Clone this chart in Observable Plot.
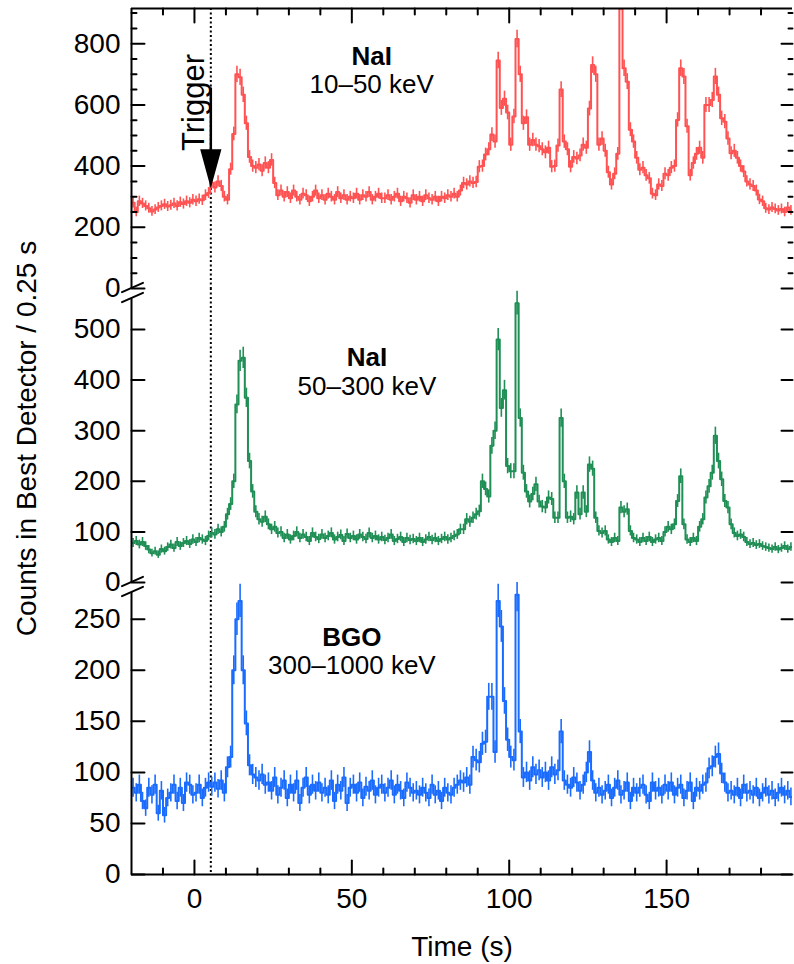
<!DOCTYPE html>
<html><head><meta charset="utf-8">
<script src="https://cdn.jsdelivr.net/npm/d3@7"></script>
<script src="https://cdn.jsdelivr.net/npm/@observablehq/plot@0.6"></script>
<style>
body{margin:0;background:#fff;}
#wrap{position:relative;width:794px;height:964px;overflow:hidden;background:#fff;}
#wrap > div{position:absolute;left:0;width:794px;}
#wrap svg{overflow:visible;}
</style></head>
<body>
<div id="wrap"><div id="p1" style="top:0px"></div><div id="p2" style="top:288px"></div><div id="p3" style="top:582px"></div></div>
<script>
// ---- data: counts per 0.25 s, 1-s bins starting at t = -20 s ----
const binStart = -20;
const binWidth = 1;
const nai1 = [ // NaI 10–50 keV
280,250,285,278,270,262,252,258,265,270,
275,268,272,278,270,282,276,285,280,290,
285,292,288,305,312,345,330,350,335,300,
290,390,505,700,690,633,540,430,400,395,
405,385,410,395,420,345,305,320,300,315,
295,320,300,290,310,305,285,300,320,295,
305,290,310,300,290,315,295,305,290,300,
295,310,290,305,300,315,290,300,310,295,
295,305,290,300,310,285,300,295,280,305,
290,300,285,305,295,290,300,285,300,295,
305,300,310,300,320,345,340,350,345,348,
398,400,438,455,503,480,745,590,620,575,
470,562,815,700,540,560,470,485,470,465,
455,445,460,398,400,467,650,480,455,398,
430,425,435,470,460,588,730,700,470,490,
450,380,340,375,440,940,720,676,519,480,
427,388,395,370,360,310,305,340,335,375,
370,395,400,551,720,693,530,370,410,440,
460,427,600,600,616,693,633,556,545,490,
442,450,427,400,382,350,340,335,320,291,
285,262,258,265,260,255,260,250,265,255];
const nai2 = [ // NaI 50–300 keV
78,82,75,80,72,65,58,62,55,66,
62,70,75,68,80,72,78,82,76,85,
80,88,85,82,92,98,95,105,100,110,
135,155,200,352,438,444,365,240,180,140,
125,120,130,115,105,110,98,100,88,95,
85,92,100,88,95,90,82,98,90,86,
95,88,92,98,85,90,94,82,96,88,
92,85,95,90,86,98,88,92,85,90,
84,88,95,82,86,90,80,88,84,86,
82,88,80,85,90,84,88,82,86,90,
85,88,92,95,105,105,125,120,128,135,
141,200,185,170,270,300,480,345,380,230,
220,220,552,325,217,180,160,175,194,160,
150,148,168,165,128,128,325,200,128,130,
125,178,135,178,140,233,225,128,102,98,
102,85,80,88,82,148,140,145,102,88,
85,80,88,82,90,80,85,88,82,100,
110,105,115,161,210,115,85,80,88,82,
110,125,168,190,217,290,240,204,161,148,
115,98,92,95,90,80,76,78,74,76,
72,70,68,66,70,65,68,72,66,70];
const bgo = [ // BGO 300–1000 keV
85,80,88,72,65,85,78,88,60,82,
58,75,80,88,72,85,70,90,88,78,
80,88,75,85,90,86,90,84,92,80,
105,115,200,250,268,200,148,107,98,95,
92,98,88,90,82,95,78,85,92,75,
88,80,92,70,85,95,78,88,82,90,
80,85,78,92,72,88,82,95,70,85,
88,80,90,75,86,82,92,78,85,88,
80,85,92,78,88,82,75,90,85,80,
82,78,85,80,75,88,78,82,72,85,
80,78,85,88,92,90,95,88,115,112,
110,128,130,174,174,120,268,243,170,132,
115,112,274,140,95,100,92,105,98,102,
95,100,92,105,98,102,140,92,88,85,
95,90,82,88,100,120,92,80,85,78,
82,88,75,85,92,78,82,90,72,85,
80,85,88,78,72,90,82,85,78,88,
82,90,78,85,88,75,82,90,72,85,
82,88,90,104,106,115,118,99,90,80,
82,78,85,75,88,80,82,78,85,75,
80,85,78,82,75,80,85,78,82,76];
const detectors = ["NaI", "NaI", "BGO"];
const bands = ["10–50 keV", "50–300 keV", "300–1000 keV"];
const triggerTime = 5.2;
const triggerLabel = "Trigger";
const xTitle = "Time (s)";
const yTitle = "Counts in Best Detector / 0.25 s";
const xTickLabels = [0, 50, 100, 150];
const xMinorTicks = [-10,10,20,30,40,60,70,80,90,110,120,130,140,160,170,180];
const y1TickLabels = [0, 200, 400, 600, 800];
const y1MinorTicks = [50,100,150,250,300,350,450,500,550,650,700,750,850,900];
const y2TickLabels = [0, 100, 200, 300, 400, 500];
const y3TickLabels = [0, 50, 100, 150, 200, 250];

// ---- drawing ----
const xDomain = [-20, 190];
const FONT = '"Liberation Sans", Arial, Helvetica, sans-serif';
const seg = {draw(ctx, l) { ctx.moveTo(0, 0); ctx.lineTo(0, -l); }};
const arrowShape = {draw(ctx, l) {
  ctx.moveTo(0, 0); ctx.lineTo(0, -l + 30);
  ctx.moveTo(0, -l); ctx.lineTo(-9, -l + 33); ctx.lineTo(9, -l + 33); ctx.closePath();
}};

function panel(cfg) {
  const rows = cfg.values.map((v, i) => ({t: binStart + i * binWidth, v}));
  const stepRows = rows.concat([{t: binStart + rows.length * binWidth, v: rows[rows.length - 1].v}]);
  const yTop = cfg.yDomain[1];
  const k = {stroke: "black", strokeWidth: 2, shape: seg, anchor: "start"};
  const marks = [
    Plot.ruleX([triggerTime], {stroke: "black", strokeWidth: 2, strokeDasharray: "2,2.5"}),
    Plot.ruleX(rows, {x: d => d.t + binWidth / 2, y1: d => d.v - Math.sqrt(d.v), y2: d => d.v + Math.sqrt(d.v),
      stroke: cfg.color, strokeWidth: 1.6, clip: true}),
    Plot.line(stepRows, {x: "t", y: "v", curve: "step-after", stroke: cfg.color, strokeWidth: 2, clip: true}),
    Plot.ruleX([xDomain[0]], {stroke: "black", strokeWidth: 2, insetTop: cfg.gapTop || 0}),
    Plot.axisY(cfg.tickLabels, {anchor: "left", tickSize: 0, tickPadding: 11, fontSize: 28, tickFormat: d => String(d), label: null}),
    Plot.vector(cfg.tickLabels, {...k, x: xDomain[0], y: d => d, length: 13, rotate: 90}),
    Plot.vector(cfg.tickLabels, {...k, x: xDomain[1], y: d => d, length: 11, rotate: -90}),
    Plot.text([cfg.detector], {x: cfg.labelX, y: yTop, dy: cfg.labelDy[0], fontWeight: "bold", fontSize: 26}),
    Plot.text([cfg.band], {x: cfg.labelX, y: yTop, dy: cfg.labelDy[1], fontSize: 26})
  ];
  if (cfg.minor) {
    marks.push(Plot.vector(cfg.minor, {...k, x: xDomain[0], y: d => d, length: 5, rotate: 90}));
    marks.push(Plot.vector(cfg.minor, {...k, x: xDomain[1], y: d => d, length: 4, rotate: -90}));
  }
  if (cfg.extra) marks.push(...cfg.extra(yTop, k));
  return Plot.plot({
    width: 794, height: cfg.height,
    marginLeft: 131, marginRight: 2, marginTop: cfg.marginTop, marginBottom: cfg.marginBottom,
    x: {domain: xDomain, axis: cfg.xAxis ? undefined : null},
    y: {domain: cfg.yDomain},
    style: {fontFamily: FONT, background: "transparent", overflow: "visible", color: "black"},
    marks
  });
}

function breakMarks(yTop) {
  return [
    Plot.vector([yTop], {stroke: "black", strokeWidth: 2, shape: seg, anchor: "middle", x: xDomain[0], y: d => d, dx: 1, dy: -1, length: 23, rotate: 66}),
    Plot.vector([yTop], {stroke: "black", strokeWidth: 2, shape: seg, anchor: "middle", x: xDomain[0], y: d => d, dx: 1, dy: 9, length: 23, rotate: 66})
  ];
}

const p1 = panel({
  values: nai1, color: "#ff5252", yDomain: [0, 915], height: 288, marginTop: 8, marginBottom: 0,
  tickLabels: y1TickLabels, minor: y1MinorTicks, detector: detectors[0], band: bands[0],
  labelX: 56.3, labelDy: [48, 76],
  extra: (yTop, k) => [
    Plot.ruleY([yTop], {stroke: "black", strokeWidth: 2}),
    Plot.vector(xTickLabels, {...k, x: d => d, y: yTop, length: 14, rotate: 180}),
    Plot.vector(xMinorTicks, {...k, x: d => d, y: yTop, length: 6, rotate: 180}),
    Plot.vector([triggerTime], {x: d => d, y: yTop, dy: 80, length: 95, rotate: 180, anchor: "start",
      shape: arrowShape, stroke: "black", fill: "black", strokeWidth: 2.5, strokeLinejoin: "miter"}),
    Plot.text([triggerLabel], {x: triggerTime, y: yTop, dx: -17, dy: 94, rotate: -90, fontSize: 31})
  ]
});
const p2 = panel({
  values: nai2, color: "#1f8f55", yDomain: [0, 581], height: 294, marginTop: 0, marginBottom: 0, gapTop: 10,
  tickLabels: y2TickLabels, detector: detectors[1], band: bands[1],
  labelX: 54.8, labelDy: [69, 98],
  extra: (yTop) => [
    ...breakMarks(yTop),
    Plot.text([yTitle], {frameAnchor: "left", textAnchor: "middle", lineAnchor: "middle", dx: -104, dy: 3, rotate: -90, fontSize: 28})
  ]
});
const p3 = panel({
  values: bgo, color: "#1a6cff", yDomain: [0, 286], height: 382, marginTop: 0, marginBottom: 90, gapTop: 10,
  tickLabels: y3TickLabels, detector: detectors[2], band: bands[2], xAxis: true,
  labelX: 50, labelDy: [55, 83],
  extra: (yTop, k) => [
    ...breakMarks(yTop),
    Plot.ruleY([0], {stroke: "black", strokeWidth: 2}),
    Plot.vector(xTickLabels, {...k, x: d => d, y: 0, length: 14, rotate: 0}),
    Plot.vector(xMinorTicks, {...k, x: d => d, y: 0, length: 6, rotate: 0}),
    Plot.axisX(xTickLabels, {tickSize: 0, tickPadding: 14, fontSize: 28, label: null, tickFormat: d => String(d)}),
    Plot.text([xTitle], {frameAnchor: "bottom", textAnchor: "middle", lineAnchor: "middle", dy: 73, fontSize: 28})
  ]
});
document.getElementById("p1").append(p1);
document.getElementById("p2").append(p2);
document.getElementById("p3").append(p3);
</script>
</body></html>
